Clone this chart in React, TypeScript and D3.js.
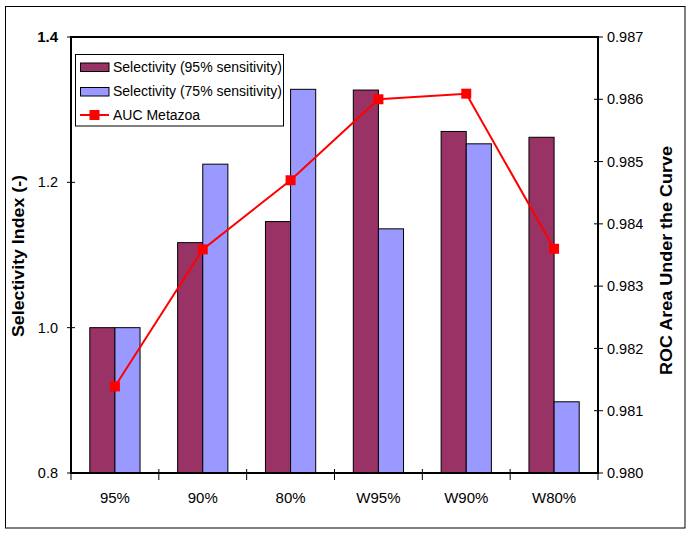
import React from "react";
import * as d3 from "d3";

const categories = ["95%", "90%", "80%", "W95%", "W90%", "W80%"];
const sel95 = [1.0, 1.117, 1.146, 1.327, 1.27, 1.262];
const sel75 = [1.0, 1.225, 1.328, 1.136, 1.253, 0.898];
const auc = [0.98139, 0.98359, 0.9847, 0.986, 0.98609, 0.9836];
const leftTicks = [0.8, 1.0, 1.2, 1.4];
const rightTicks = [0.98, 0.981, 0.982, 0.983, 0.984, 0.985, 0.986, 0.987];
const seriesNames = ["Selectivity (95% sensitivity)", "Selectivity (75% sensitivity)"];
const lineName = "AUC Metazoa";
const leftTitle = "Selectivity Index (-)";
const rightTitle = "ROC Area Under the Curve";

const W = 692;
const H = 533;
const L = 71;
const R = 598;
const T = 37;
const B = 473;
const FONT = "'Liberation Sans', Arial, sans-serif";
const colors = ["#993366", "#9999FF"];
const RED = "#FF0000";

export default function App() {
  const x = d3
    .scaleBand<string>()
    .domain(categories)
    .range([L, R])
    .paddingInner(0.428)
    .paddingOuter(0.214);
  const xi = d3.scaleBand<number>().domain([0, 1]).range([0, x.bandwidth()]);
  const yL = d3.scaleLinear().domain([0.8, 1.4]).range([B, T]);
  const yR = d3.scaleLinear().domain([0.98, 0.987]).range([B, T]);
  const series = [sel95, sel75];
  const step = x.step();
  const lineGen = d3
    .line<number>()
    .x((_, i) => (x(categories[i]) as number) + x.bandwidth() / 2)
    .y((d) => yR(d));

  return (
    <svg
      width={W}
      height={H}
      style={{ position: "absolute", left: 0, top: 0, background: "#fff" }}
      fontFamily={FONT}
    >
      <rect x={0} y={0} width={W} height={H} fill="#fff" />
      <rect x={5.5} y={6.5} width={679.5} height={521.5} fill="none" stroke="#000" strokeWidth={1} />

      {/* bars */}
      {series.map((vals, s) =>
        vals.map((v, i) => (
          <rect
            key={`b${s}-${i}`}
            x={(x(categories[i]) as number) + (xi(s) as number)}
            y={yL(v)}
            width={xi.bandwidth()}
            height={B - yL(v)}
            fill={colors[s]}
            stroke="#000"
            strokeWidth={1}
          />
        ))
      )}

      {/* frame */}
      <line x1={L} x2={R} y1={T} y2={T} stroke="#000" strokeWidth={2} />
      <line x1={L} x2={L} y1={T - 1} y2={B + 1} stroke="#000" strokeWidth={2} />
      <line x1={R} x2={R} y1={T - 1} y2={B + 1} stroke="#000" strokeWidth={2} />
      <line x1={L - 1} x2={R + 1} y1={B} y2={B} stroke="#000" strokeWidth={2} />

      {/* left ticks */}
      {leftTicks.map((t, i) => (
        <g key={`lt${i}`}>
          <line x1={L - 4} x2={L + 4} y1={yL(t)} y2={yL(t)} stroke="#000" strokeWidth={1} />
          <text
            x={58}
            y={yL(t)}
            dy="0.35em"
            textAnchor="end"
            fontSize={t === 1.4 ? 15 : 14.5}
            fontWeight={t === 1.4 ? "bold" : "normal"}
          >
            {t.toFixed(1)}
          </text>
        </g>
      ))}

      {/* right ticks */}
      {rightTicks.map((t, i) => (
        <g key={`rt${i}`}>
          <line x1={R - 4} x2={R + 5} y1={yR(t)} y2={yR(t)} stroke="#000" strokeWidth={1} />
          <text x={607} y={yR(t)} dy="0.35em" textAnchor="start" fontSize={14.5}>
            {t.toFixed(3)}
          </text>
        </g>
      ))}

      {/* x ticks */}
      {d3.range(categories.length + 1).map((i) => (
        <line
          key={`xt${i}`}
          x1={L + i * step}
          x2={L + i * step}
          y1={B - 4}
          y2={B + 7}
          stroke="#000"
          strokeWidth={1}
        />
      ))}
      {categories.map((c, i) => (
        <text
          key={`xl${i}`}
          x={(x(c) as number) + x.bandwidth() / 2}
          y={503}
          textAnchor="middle"
          fontSize={15}
        >
          {c}
        </text>
      ))}

      {/* line */}
      <path d={lineGen(auc) as string} fill="none" stroke={RED} strokeWidth={2} />
      {auc.map((v, i) => (
        <rect
          key={`m${i}`}
          x={(x(categories[i]) as number) + x.bandwidth() / 2 - 5}
          y={yR(v) - 5}
          width={10}
          height={10}
          fill={RED}
        />
      ))}

      {/* axis titles */}
      <text
        transform="translate(24,256) rotate(-90)"
        textAnchor="middle"
        fontSize={16}
        fontWeight="bold"
        textLength={162}
        lengthAdjust="spacingAndGlyphs"
      >
        {leftTitle}
      </text>
      <text
        transform="translate(672,260.5) rotate(-90)"
        textAnchor="middle"
        fontSize={16}
        fontWeight="bold"
        textLength={229}
        lengthAdjust="spacingAndGlyphs"
      >
        {rightTitle}
      </text>

      {/* legend */}
      <rect x={75.5} y={54.5} width={208} height={71.5} fill="#fff" stroke="#000" strokeWidth={1} />
      {seriesNames.map((n, s) => (
        <g key={`lg${s}`}>
          <rect
            x={80.5}
            y={63 + s * 24.5}
            width={28.5}
            height={8.5}
            fill={colors[s]}
            stroke="#000"
            strokeWidth={1}
          />
          <text x={113} y={67.5 + s * 24} dy="0.35em" fontSize={14}>
            {n}
          </text>
        </g>
      ))}
      <line x1={80} x2={109} y1={115} y2={115} stroke={RED} strokeWidth={2} />
      <rect x={89.5} y={110} width={10} height={10} fill={RED} />
      <text x={113} y={115} dy="0.35em" fontSize={14}>
        {lineName}
      </text>
    </svg>
  );
}
